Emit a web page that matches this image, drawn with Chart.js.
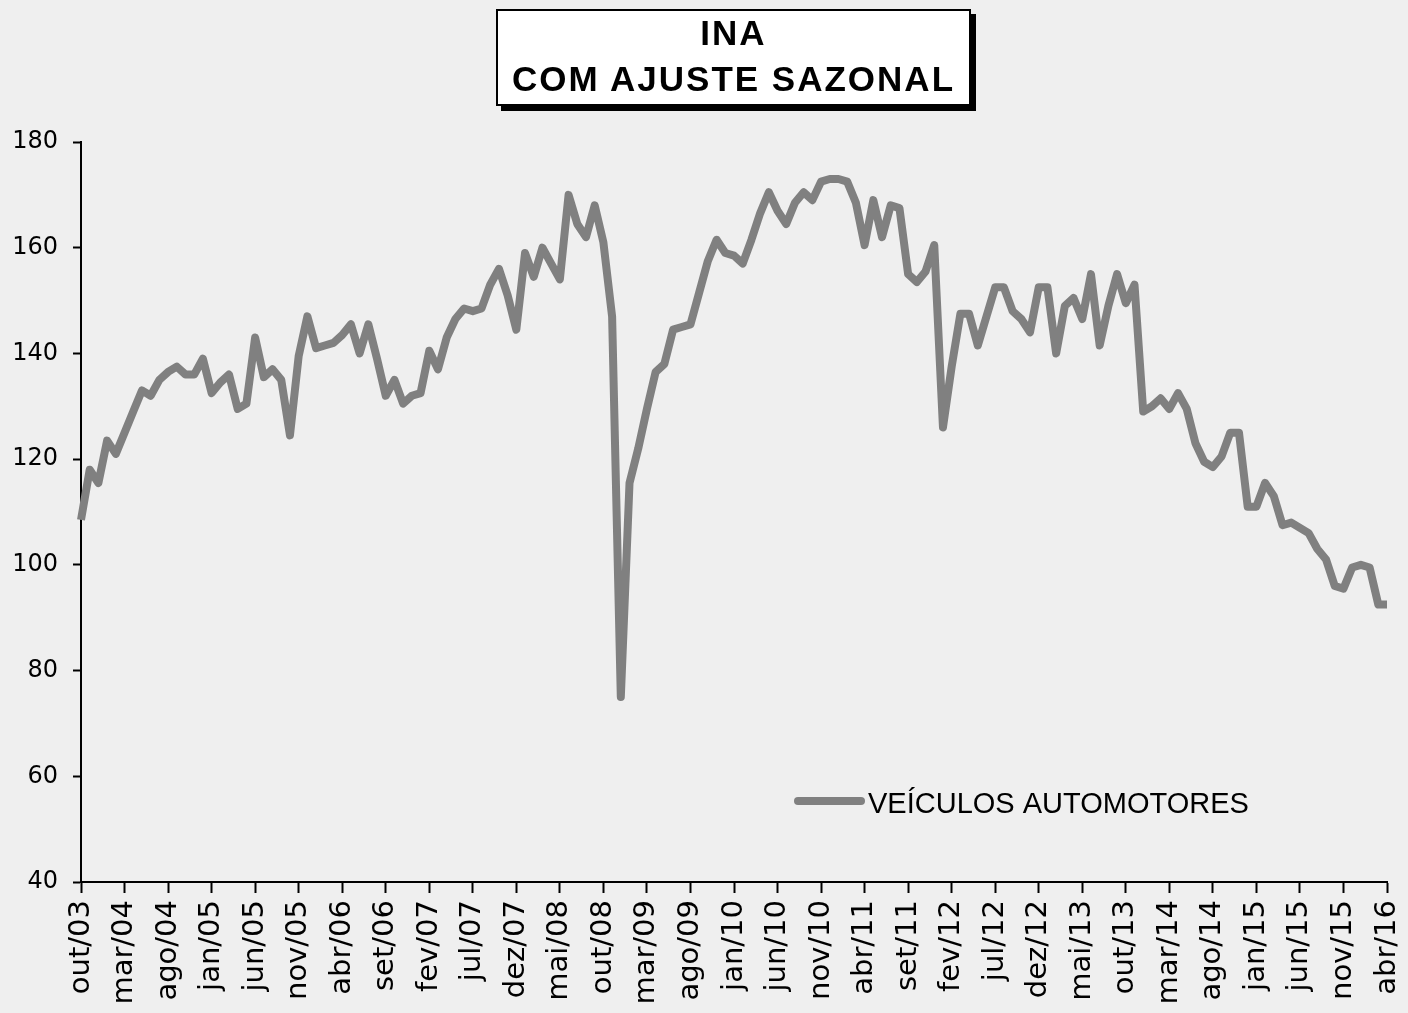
<!DOCTYPE html>
<html>
<head>
<meta charset="utf-8">
<script src="https://cdn.jsdelivr.net/npm/chart.js"></script>
<style>
  html, body { margin: 0; padding: 0; background: #efefef; }
  #wrap { position: relative; width: 1408px; height: 1013px; overflow: hidden; }
  #titleBox {
    position: absolute; left: 496px; top: 9px; width: 471px; height: 93px;
    background: #fff; border: 2px solid #000; box-shadow: 5px 5px 0 #000;
    font-family: "Liberation Sans", Arial, sans-serif; font-weight: bold; font-size: 35px;
    letter-spacing: 2px; line-height: 46px; text-align: center; color: #000;
  }
  #titleBox div { margin-top: -1px; }
  canvas { position: absolute; left: 0; top: 0; }
</style>
</head>
<body>
<div id="wrap">
  <canvas id="chart" width="1408" height="1013"></canvas>
  <div id="titleBox"><div>INA<br>COM AJUSTE SAZONAL</div></div>
</div>
<script>
// meses de out/03 a abr/16
const monthNames = ['jan', 'fev', 'mar', 'abr', 'mai', 'jun', 'jul', 'ago', 'set', 'out', 'nov', 'dez']
const startMonth = 9   // out
const startYear = 3    // 2003
const monthCount = 151
const tickEvery = 5

const categories = []
for (let i = 0; i < monthCount; i++) {
    const m = (startMonth + i) % 12
    const y = startYear + Math.floor((startMonth + i) / 12)
    categories.push(monthNames[m] + '/' + String(y).padStart(2, '0'))
}

const seriesName = 'VEÍCULOS AUTOMOTORES'
const veiculos = [
    108.5, 118, 115.5, 123.5, 121, 125, 129, 133, 132, 135,
    136.5, 137.5, 136, 136, 139, 132.5, 134.5, 136, 129.5, 130.5,
    143, 135.5, 137, 135, 124.5, 139.5, 147, 141, 141.5, 142,
    143.5, 145.5, 140, 145.5, 139, 132, 135, 130.5, 132, 132.5,
    140.5, 137, 143, 146.5, 148.5, 148, 148.5, 153, 156, 151,
    144.5, 159, 154.5, 160, 157, 154, 170, 164.5, 162, 168,
    161, 147, 75, 115.5, 122, 129.5, 136.5, 138, 144.5, 145,
    145.5, 151.5, 157.5, 161.5, 159, 158.5, 157, 161.5, 166.5, 170.5,
    167, 164.5, 168.5, 170.5, 169, 172.5, 173, 173, 172.5, 168.5,
    160.5, 169, 162, 168, 167.5, 155, 153.5, 155.5, 160.5, 126,
    137.5, 147.5, 147.5, 141.5, 147, 152.5, 152.5, 148, 146.5, 144,
    152.5, 152.5, 140, 149, 150.5, 146.5, 155, 141.5, 149, 155,
    149.5, 153, 129, 130, 131.5, 129.5, 132.5, 129.5, 123, 119.5,
    118.5, 120.5, 125, 125, 111, 111, 115.5, 113, 107.5, 108,
    107, 106, 103, 101, 96, 95.5, 99.5, 100, 99.5, 92.5,
    92.5
]

const yMin = 40
const yMax = 180
const yStep = 20

const lineColor = '#808080'

// legenda desenhada dentro da area do grafico
const insideLegend = {
    id: 'insideLegend',
    afterDraw(chart) {
        const ctx = chart.ctx
        ctx.save()
        ctx.strokeStyle = lineColor
        ctx.lineWidth = 8
        ctx.lineCap = 'round'
        ctx.beginPath()
        ctx.moveTo(798, 801)
        ctx.lineTo(861, 801)
        ctx.stroke()
        ctx.fillStyle = '#000'
        ctx.font = '29px "Liberation Sans", Arial, sans-serif'
        ctx.textBaseline = 'alphabetic'
        ctx.fillText(chart.data.datasets[0].label, 868, 813)
        ctx.restore()
    }
}

new Chart(document.getElementById('chart'), {
    type: 'line',
    data: {
        labels: categories,
        datasets: [{
            label: seriesName,
            data: veiculos,
            borderColor: lineColor,
            borderWidth: 8,
            pointRadius: 0,
            tension: 0,
            borderJoinStyle: 'round',
            fill: false
        }]
    },
    options: {
        responsive: false,
        animation: false,
        layout: { padding: { top: 142, right: 21, left: 0, bottom: 0 } },
        plugins: {
            legend: { display: false },
            title: { display: false },
            tooltip: { enabled: false }
        },
        scales: {
            x: {
                type: 'category',
                offset: false,
                afterBuildTicks(scale) {
                    scale.ticks = scale.ticks.filter((t, i) => i % tickEvery === 0)
                },
                afterFit(scale) {
                    scale.height = 131
                    scale.paddingLeft = 0
                    scale.paddingRight = 0
                },
                grid: {
                    drawOnChartArea: false,
                    drawTicks: true,
                    tickLength: 11,
                    tickColor: '#000',
                    tickWidth: 2
                },
                border: { display: true, color: '#000', width: 2 },
                ticks: {
                    autoSkip: false,
                    maxRotation: 90,
                    minRotation: 90,
                    padding: 7,
                    color: '#000',
                    font: { family: '"DejaVu Sans", sans-serif', size: 29 }
                }
            },
            y: {
                min: yMin,
                max: yMax,
                afterFit(scale) { scale.width = 81 },
                grid: {
                    drawOnChartArea: false,
                    drawTicks: true,
                    tickLength: 8,
                    tickColor: '#000',
                    tickWidth: 2
                },
                border: { display: true, color: '#000', width: 2 },
                ticks: {
                    stepSize: yStep,
                    padding: 15,
                    color: '#000',
                    font: { family: '"DejaVu Sans", sans-serif', size: 24 }
                }
            }
        }
    },
    plugins: [insideLegend]
})
</script>
</body>
</html>
